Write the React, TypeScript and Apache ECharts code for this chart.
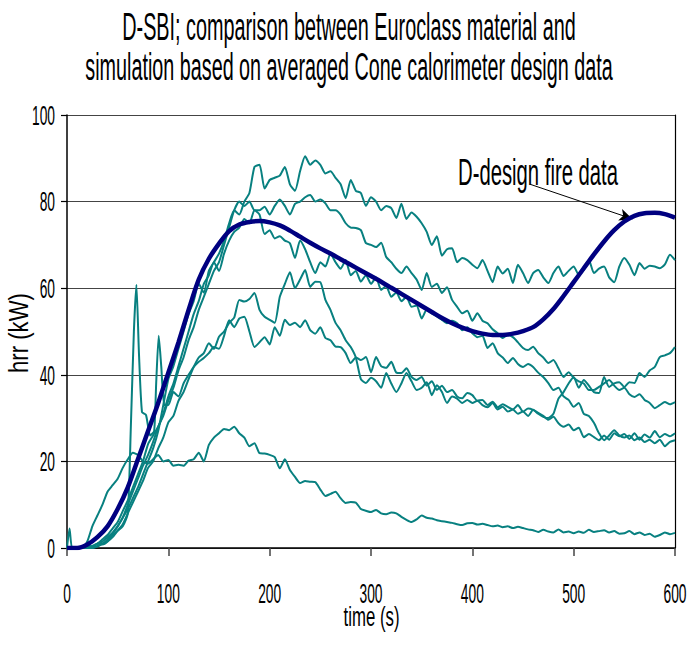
import React, { useEffect, useRef } from "react";
import * as echarts from "echarts";

const FONT = '"Liberation Sans Narrow", "Liberation Sans", Arial, sans-serif';

const TITLE_LINES = [
  "D-SBI; comparison between Euroclass material and",
  "simulation based on averaged Cone calorimeter design data",
];
const X_NAME = "time (s)";
const Y_NAME = "hrr (kW)";
const ANNOTATION = "D-design fire data";

const X_MIN = 0, X_MAX = 600, X_STEP = 100;
const Y_MIN = 0, Y_MAX = 100, Y_STEP = 20;
const X_TICKS = [0, 100, 200, 300, 400, 500, 600];
const Y_TICKS = [0, 20, 40, 60, 80, 100];

// sample times (s)
const TIME = Array.from({ length: 121 }, (_, i) => i * 5);
const DESIGN_TIME = Array.from({ length: 61 }, (_, i) => i * 10);

// D-design fire data (navy curve)
const DESIGN = [
  0, 0, 0.8, 2.5, 5, 9, 14, 20.5, 27, 33.5,
  40.5, 47.5, 55, 62, 66.8, 70.3, 73.2, 74.7, 75.3, 75.5,
  75.2, 74.5, 73.3, 71.9, 70.5, 69.2, 68, 66.7, 65.4, 64.1,
  62.8, 61.5, 60.1, 58.7, 57.3, 55.9, 54.5, 53.1, 51.9, 50.9,
  50.1, 49.5, 49.2, 49.2, 49.5, 50.1, 51, 52.8, 55.2, 58.2,
  61.4, 64.6, 67.8, 70.8, 73.4, 75.4, 76.7, 77.3, 77.4, 77.1,
  76.3,
];

// SBI test curves (teal)
const SERIES_A = [
  0, 0, 0, 0, 1.5, 5, 7.5, 10, 13, 14.5,
  16, 18.5, 20.5, 22, 21.5, 20, 19.5, 20.5, 21.5, 20,
  20.3, 19, 19.2, 19, 20.2, 20.5, 22, 20, 23.8, 25.5,
  26.5, 27.5, 27.2, 28, 26.5, 25.5, 23.5, 24.2, 21.9, 21.8,
  21.5, 21, 18.4, 20.5, 18, 16.4, 15, 15.5, 15.3, 15.2,
  13.5, 12, 12.5, 13, 11.5, 10.4, 10.6, 10.5, 9, 8.6,
  8.3, 8.8, 8, 7.8, 8.2, 8, 7.2, 6.5, 6, 6.6,
  7.5, 7, 6.8, 6.4, 6.2, 6, 5.8, 5.5, 5.3, 5.7,
  5.8, 5.4, 5.6, 5.3, 5, 5.2, 4.8, 5, 4.6, 4.9,
  4.6, 4.3, 4.1, 3.7, 4.2, 3.8, 3.6, 4.3, 3.6, 3.8,
  3.4, 3.8, 3.5, 4.2, 3.7, 3.9, 4.1, 3.6, 3.9, 3.3,
  3.4, 3.9, 3.2, 3.6, 3, 3.3, 2.6, 3, 3.6, 3.2,
  3.5,
];

const SERIES_C = [
  0, 0, 0, 0, 0, 0.5, 1, 1.5, 2.5, 3.5,
  5, 7, 9, 11.5, 14, 17, 20, 23, 27, 33,
  39, 42, 46, 50, 54, 57, 61, 59, 64, 66,
  68, 71, 75, 78, 77, 80, 82, 88, 88.5, 83,
  85, 85.5, 86, 88, 84, 82.5, 87, 90.5, 88.5, 89.5,
  88.5, 86.5, 87, 85.5, 84, 80.8, 85, 82.5, 82, 79,
  81, 80, 78, 79, 78.5, 76.2, 79.5, 76, 77.5, 76.5,
  75, 73, 70, 72, 67.5, 69, 69.2, 66, 67, 66.5,
  65.4, 64.6, 66.5, 64, 61.4, 65, 63.4, 64.5, 61.2, 65.4,
  63.5, 61.2, 63.5, 64.2, 62.5, 61.2, 63.5, 65, 62.8, 64,
  65, 63.1, 64.2, 66.5, 63.5, 64.5, 65, 62.5, 61.4, 65,
  67, 65.4, 63, 65.8, 64.5, 65.2, 65, 64.6, 65.5, 67.7,
  66.5,
];

const SERIES_D = [
  0, 0, 0, 0, 0, 0, 0.5, 1, 2, 3.5,
  5, 7, 10, 13, 16, 19, 21.5, 24.5, 28, 30.5,
  34, 37, 41, 44, 48, 51, 55, 58, 61, 64,
  66, 70, 74, 78, 80, 79, 80, 78, 78, 78.8,
  77, 79, 80.5, 79, 77, 79.5, 80, 81, 81.5, 80,
  80.5, 79.6, 78, 78, 77, 75, 74, 73.9, 73.4, 70.4,
  70, 69.5, 70.5, 67.2, 66, 64.5, 63.5, 65, 63.5, 62,
  59.6, 63.5, 60.3, 61, 58.9, 60.2, 57.3, 55.7, 54.2, 54.8,
  52.5, 54.2, 52.5, 51.9, 50.5, 49.6, 48.5, 49.2, 48.7, 47.5,
  46.2, 45.7, 46.5, 45, 44, 42.7, 43.4, 41.5, 39.5, 40.6,
  39.3, 38.5, 38, 36.5, 36.5, 37.2, 38, 38.8, 37.5, 36.5,
  37, 35.5, 34.9, 35.5, 34.2, 33.5, 32.3, 33, 33.7, 33.2,
  33.7,
];

const SERIES_E = [
  0, 0, 0, 0, 0.5, 0.3, 1, 2, 3, 4.5,
  6, 8.5, 11, 14, 17, 20, 24, 26, 28, 31,
  35, 38, 42, 46, 50, 54, 57, 61, 63, 66,
  64, 68, 71, 73, 74, 76, 75, 78, 77, 72.5,
  73.4, 71.5, 72, 71, 70.4, 67, 71, 69, 66, 63.5,
  66, 65, 68, 66, 64.5, 66.5, 63, 64, 61.5, 63,
  61, 62.5, 59.6, 60.5, 58, 59, 57, 58, 55.7, 56,
  53, 55, 54.2, 53.5, 52.7, 51.9, 52.5, 51.9, 50.3, 51,
  49.6, 48.7, 49, 46.2, 47.3, 45, 44, 42.7, 43.9, 42.5,
  41.8, 42.5, 41.8, 40.5, 39.5, 38.1, 36.5, 37, 35, 34.2,
  32.6, 33.5, 31, 30.5, 28.9, 26.5, 24.9, 26, 27.2, 26,
  25.5, 26, 24.9, 25.5, 24.5, 25, 24.2, 25, 23.5, 24.5,
  24.9,
];

const SERIES_F = [
  0, 0, 0, 0, 0, 0, 0.3, 1, 1.5, 2.5,
  4, 5.5, 8, 10.5, 13, 15.5, 18.5, 20, 23, 25.5,
  29, 30.5, 34, 36, 39, 41.8, 44, 45, 47.3, 46,
  48.8, 50, 52, 53.2, 57.3, 56.9, 57.5, 58.9, 55, 53.4,
  52.7, 52, 58, 61, 63.7, 60, 62, 64.2, 60.3, 61.5,
  61.4, 57.3, 55, 52, 50.3, 48, 46.4, 44, 39, 38.1,
  39.3, 38.5, 37, 40.4, 38, 36, 38, 40.4, 38.5, 36.5,
  37, 38.3, 35.3, 37.6, 36, 33.5, 35, 34.5, 33.5, 34.2,
  33.5, 34, 33, 32.5, 33.5, 32, 32.6, 31.5, 32, 31,
  31.5, 30.5, 31.9, 31, 30.3, 30, 31, 34.5, 36, 38,
  39.5, 37, 38.8, 37.5, 36, 35.8, 39.5, 37.2, 38, 38.3,
  37.2, 38.3, 38.1, 40.4, 39.5, 41, 41.8, 44.1, 44.5, 45,
  46.4,
];

// curve with the early spikes: its own times up to 100 s, then every 5 s
const SERIES_G_TIME_EARLY = [
  0, 2.5, 5, 10, 15, 20, 25, 30, 35, 40,
  45, 50, 55, 60, 63, 66, 68.5, 71, 74, 78,
  82, 86, 88, 90.5, 93, 96, 100,
];
const SERIES_G_EARLY = [
  0, 4.5, 0, 0, 0, 0.5, 0.3, 1, 0.8, 1.5,
  3, 4, 5, 8, 28, 50, 60.8, 45, 31.4, 30.7,
  26, 27, 38, 49, 42, 33, 33,
];
const SERIES_G_LATE = [
  36, 35, 38, 40, 41.8, 43, 43.9, 45, 46.4,
  46, 49, 52.6, 51, 53, 53.4, 50, 46.4, 47.5, 48.7,
  47, 51, 49, 52.7, 51.5, 52, 51, 52.6, 50.3, 49.5,
  51, 48.5, 48, 46.5, 46.4, 45, 42.7, 44, 43.4, 44.1,
  40.6, 44.1, 42, 41.6, 43, 40.5, 40.4, 41.5, 39.5, 38.8,
  39.5, 37.5, 38.5, 36.5, 37.5, 36, 36.5, 35, 34.6, 35.8,
  35.3, 34, 34.2, 33, 33.8, 32.5, 33.2, 32.6, 32, 33,
  31.5, 32.2, 31.9, 31.2, 30.5, 29.6, 30.3, 28.8, 28, 28.5,
  27.2, 27.8, 25.6, 26.3, 25.6, 24.9, 26, 25, 26.5, 25.8,
  26.3, 25.2, 26.5, 25, 26.2, 25.5, 27, 25.6, 26.3, 25.8,
  26.5,
];
const SERIES_G_TIME = SERIES_G_TIME_EARLY.concat(TIME.slice(21));
const SERIES_G = SERIES_G_EARLY.concat(SERIES_G_LATE);

// annotation arrow (data coordinates)
const ARROW_FROM = [457, 84];
const ARROW_TO = [558, 76];

const TEAL = "#088080";
const NAVY = "#000080";

const pairs = (t: number[], v: number[]) => v.map((y, i) => [t[i], y]);

export default function App() {
  const ref = useRef<HTMLDivElement>(null);
  useEffect(() => {
    document.body.style.margin = "0";
    const el = ref.current!;
    const chart = echarts.init(el, null, { renderer: "svg" });
    const ctx = document.createElement("canvas").getContext("2d")!;
    const measure = (text: string, size: number) => {
      ctx.font = `${size}px ${FONT}`;
      return ctx.measureText(text).width || 1;
    };
    const label = (
      text: string,
      x: number,
      y: number,
      size: number,
      scaleX: number,
      align = "center",
      rotation = 0
    ) => ({
      type: "text",
      x,
      y,
      rotation,
      scaleX,
      silent: true,
      style: {
        text,
        font: `${size}px ${FONT}`,
        fill: "#000",
        align,
        verticalAlign: "middle",
      },
    });
    const fitted = (text: string, x: number, y: number, size: number, width: number, rotation = 0) =>
      label(text, x, y, size, width / measure(text, size), "center", rotation);

    const teal = (name: string, t: number[], v: number[]) => ({
      name,
      type: "line",
      data: pairs(t, v),
      showSymbol: false,
      symbol: "none",
      smooth: 0.2,
      lineStyle: { color: TEAL, width: 2 },
      z: 2,
    });

    const baseGraphic = [
      fitted(TITLE_LINES[0], 349, 27, 39, 454),
      fitted(TITLE_LINES[1], 349, 67, 39, 528),
      fitted(ANNOTATION, 538, 172, 37, 160),
      fitted(X_NAME, 371.5, 616, 28, 56),
      fitted(Y_NAME, 18, 333, 28, 80, Math.PI / 2),
    ];

    const option: any = {
      animation: false,
      backgroundColor: "#fff",
      grid: { left: 67, top: 115, width: 608, height: 433, containLabel: false },
      xAxis: {
        type: "value",
        min: X_MIN,
        max: X_MAX,
        interval: X_STEP,
        axisLine: { show: true, onZero: false, lineStyle: { color: "#000", width: 1.5 } },
        axisTick: { show: true, length: 8, lineStyle: { color: "#444", width: 1.5 } },
        axisLabel: { show: false },
        splitLine: { show: false },
      },
      yAxis: [
        {
          type: "value",
          min: Y_MIN,
          max: Y_MAX,
          interval: Y_STEP,
          axisLine: { show: true, lineStyle: { color: "#000", width: 1.5 } },
          axisTick: { show: true, length: 6, lineStyle: { color: "#000", width: 1.2 } },
          axisLabel: { show: false },
          splitLine: { show: true, lineStyle: { color: "#444", width: 1.2 } },
        },
        {
          type: "value",
          position: "right",
          min: Y_MIN,
          max: Y_MAX,
          interval: Y_STEP,
          axisLine: { show: true, lineStyle: { color: "#000", width: 1.2 } },
          axisTick: { show: false },
          axisLabel: { show: false },
          splitLine: { show: false },
        },
      ],
      series: [
        teal("A", TIME, SERIES_A),
        teal("G", SERIES_G_TIME, SERIES_G),
        teal("F", TIME, SERIES_F),
        teal("E", TIME, SERIES_E),
        teal("D", TIME, SERIES_D),
        teal("C", TIME, SERIES_C),
        {
          name: ANNOTATION,
          type: "line",
          data: pairs(DESIGN_TIME, DESIGN),
          showSymbol: false,
          symbol: "none",
          smooth: 0.3,
          lineStyle: { color: NAVY, width: 4.5 },
          z: 5,
          markLine: {
            silent: true,
            symbol: ["none", "arrow"],
            symbolSize: [9, 13],
            label: { show: false },
            lineStyle: { color: "#000", width: 1, type: "solid" },
            data: [[{ coord: ARROW_FROM }, { coord: ARROW_TO }]],
          },
        },
      ],
      graphic: baseGraphic,
    };
    chart.setOption(option);

    // tick labels placed through the axes' own scales
    const tickSize = 27;
    const tickScale = 23 / measure("100", tickSize);
    const tickGraphic: any[] = [];
    X_TICKS.forEach((v) => {
      const p = chart.convertToPixel({ gridIndex: 0 }, [v, Y_MIN]) as number[];
      tickGraphic.push(label(String(v), p[0], p[1] + 46, tickSize, tickScale, "center"));
    });
    Y_TICKS.forEach((v) => {
      const p = chart.convertToPixel({ gridIndex: 0 }, [X_MIN, v]) as number[];
      tickGraphic.push(label(String(v), p[0] - 12, p[1] + 1, tickSize, tickScale, "right"));
    });
    chart.setOption({ graphic: [...baseGraphic, ...tickGraphic] });

    return () => chart.dispose();
  }, []);
  return <div ref={ref} style={{ width: 690, height: 646 }} />;
}
